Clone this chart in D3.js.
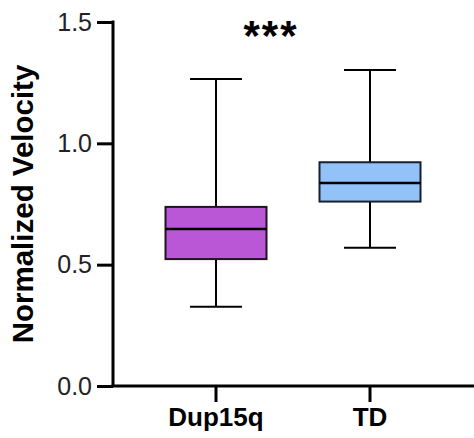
<!DOCTYPE html>
<html>
<head>
<meta charset="utf-8">
<script src="https://cdn.jsdelivr.net/npm/d3@7"></script>
<style>
  html, body { margin: 0; padding: 0; background: #fff; }
  svg { display: block; font-family: "Liberation Sans", Arial, sans-serif; }
</style>
</head>
<body>
<div id="chart"></div>
<script>
// box plot: velocidade normalizada por grupo
const GROUPS = ["Dup15q", "TD"];
const WHISKER_LOW = [0.327, 0.570];
const Q1 = [0.523, 0.760];
const MEDIAN = [0.647, 0.837];
const Q3 = [0.738, 0.922];
const WHISKER_HIGH = [1.265, 1.302];
const FILLS = ["#b957d6", "#93c2f8"];
const STROKES = ["#1e1420", "#17202c"];
const Y_TICKS = [0.0, 0.5, 1.0, 1.5];
const SIG_LABEL = "***";

const W = 474;
const H = 438;
const MARGIN = { top: 22, right: 0, bottom: 52, left: 113 };

const d3 = window.d3;
const svg = d3.select("#chart").append("svg").attr("width", W).attr("height", H);

const y = d3.scaleLinear().domain([0, 1.5]).range([H - MARGIN.bottom, MARGIN.top]);
const x = d3.scaleBand().domain(GROUPS).range([139, 447]);
const boxW = 101;
const capW = 52;

const rows = GROUPS.map((g, i) => ({
  group: g,
  lo: WHISKER_LOW[i],
  q1: Q1[i],
  med: MEDIAN[i],
  q3: Q3[i],
  hi: WHISKER_HIGH[i],
  fill: FILLS[i],
  stroke: STROKES[i],
}));

const cx = (d) => x(d.group) + x.bandwidth() / 2;

const g = svg.append("g");

// whiskers
g.selectAll("line.whisker")
  .data(rows.flatMap((d) => [[d, d.hi, d.q3], [d, d.lo, d.q1]]))
  .join("line")
  .attr("x1", ([d]) => cx(d))
  .attr("x2", ([d]) => cx(d))
  .attr("y1", ([, a]) => y(a))
  .attr("y2", ([, , b]) => y(b))
  .attr("stroke", "#000")
  .attr("stroke-width", 2);

g.selectAll("line.cap")
  .data(rows.flatMap((d) => [[d, d.hi], [d, d.lo]]))
  .join("line")
  .attr("x1", ([d]) => cx(d) - capW / 2)
  .attr("x2", ([d]) => cx(d) + capW / 2)
  .attr("y1", ([, v]) => y(v))
  .attr("y2", ([, v]) => y(v))
  .attr("stroke", "#000")
  .attr("stroke-width", 2);

// boxes
g.selectAll("rect.box")
  .data(rows)
  .join("rect")
  .attr("x", (d) => cx(d) - boxW / 2)
  .attr("width", boxW)
  .attr("y", (d) => y(d.q3))
  .attr("height", (d) => y(d.q1) - y(d.q3))
  .attr("fill", (d) => d.fill)
  .attr("stroke", (d) => d.stroke)
  .attr("stroke-width", 2);

g.selectAll("line.median")
  .data(rows)
  .join("line")
  .attr("x1", (d) => cx(d) - boxW / 2)
  .attr("x2", (d) => cx(d) + boxW / 2)
  .attr("y1", (d) => y(d.med))
  .attr("y2", (d) => y(d.med))
  .attr("stroke", "#000")
  .attr("stroke-width", 2.5);

// eixo Y
const yAxis = svg.append("g")
  .attr("transform", `translate(${MARGIN.left},0)`)
  .call(d3.axisLeft(y).tickValues(Y_TICKS).tickFormat(d3.format(".1f")).tickSize(16).tickPadding(5));
yAxis.select(".domain").attr("stroke", "#000").attr("stroke-width", 3)
  .attr("d", `M0,${y(1.5) - 1.5}V${y(0)}`);
yAxis.selectAll(".tick line").attr("stroke", "#000").attr("stroke-width", 3);
yAxis.selectAll(".tick text").attr("fill", "#222").attr("font-size", 25)
  .attr("font-family", "'Liberation Sans', Arial, sans-serif");

// eixo X
const xAxis = svg.append("g")
  .attr("transform", `translate(0,${y(0)})`)
  .call(d3.axisBottom(x).tickSize(16).tickPadding(6));
xAxis.select(".domain").attr("stroke", "#000").attr("stroke-width", 3)
  .attr("d", `M${MARGIN.left - 1.5},0H${W}`);
xAxis.selectAll(".tick line").attr("stroke", "#000").attr("stroke-width", 3);
xAxis.selectAll(".tick text").attr("fill", "#000").attr("font-size", 26).attr("font-weight", 700)
  .attr("font-family", "'Liberation Sans', Arial, sans-serif");

// titulo do eixo Y
svg.append("text")
  .attr("transform", `translate(33,${(y(0) + y(1.5)) / 2}) rotate(-90)`)
  .attr("text-anchor", "middle")
  .attr("font-size", 29.5)
  .attr("font-weight", 700)
  .attr("fill", "#000")
  .text("Normalized Velocity");

// significancia
svg.append("text")
  .attr("x", 271)
  .attr("y", 50)
  .attr("text-anchor", "middle")
  .attr("font-size", 42)
  .attr("font-weight", 700)
  .attr("letter-spacing", 2)
  .attr("fill", "#000")
  .text(SIG_LABEL);
</script>
</body>
</html>
